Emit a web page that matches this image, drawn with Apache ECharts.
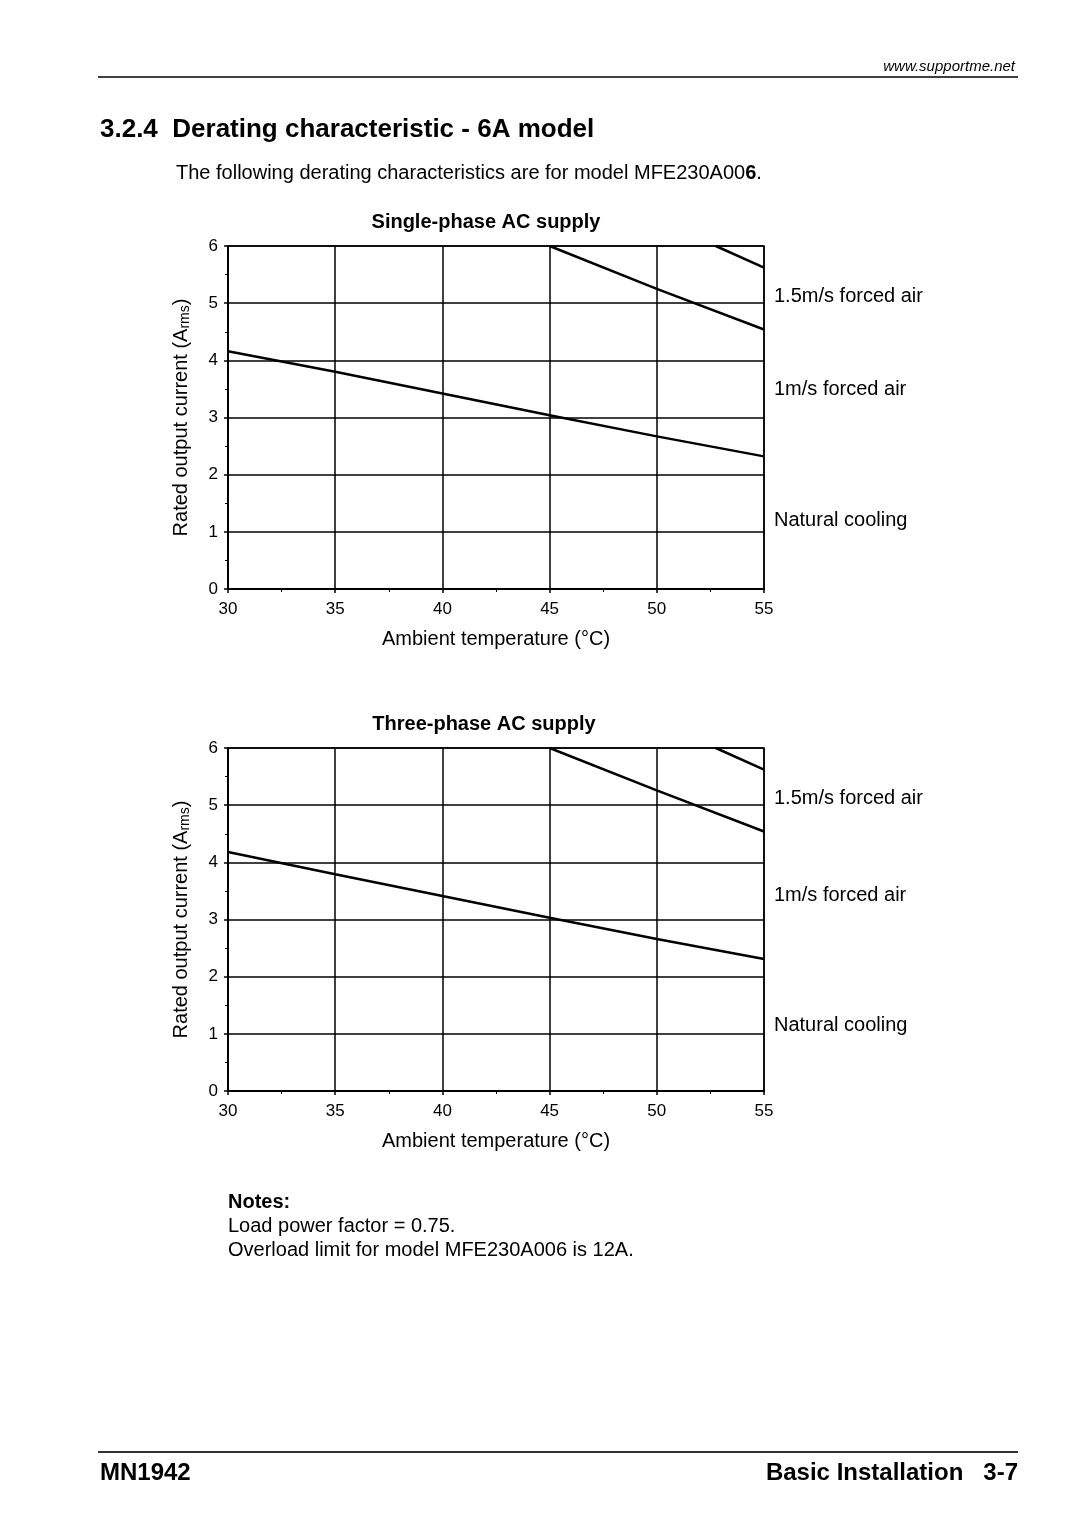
<!DOCTYPE html>
<html>
<head>
<meta charset="utf-8">
<script src="https://cdn.jsdelivr.net/npm/echarts@6/dist/echarts.min.js"></script>
<style>
  html, body { margin: 0; padding: 0; background: #fff; }
  #page { width: 1080px; height: 1529px; }
</style>
</head>
<body>
<div id="page"></div>
<script>
// temperature points (°C) and rated current (Arms)
var tempNatural = [30, 35, 40, 45, 50, 55];
var singleNatural = [4.16, 3.80, 3.42, 3.04, 2.67, 2.32];
var threeNatural = [4.18, 3.79, 3.41, 3.03, 2.66, 2.31];

var temp1ms = [45, 50, 55];
var single1ms = [6.0, 5.25, 4.54];
var three1ms = [6.0, 5.26, 4.54];

var temp15ms = [52.75, 55];
var single15ms = [6.0, 5.62];
var three15ms = [6.0, 5.62];

var xTicks = { min: 30, max: 55, step: 5 };
var yTicks = { min: 0, max: 6, step: 1 };

var sideLabels = ["1.5m/s forced air", "1m/s forced air", "Natural cooling"];

var font = "'Liberation Sans', Arial, sans-serif";
var chart = echarts.init(document.getElementById("page"));

function pairs(xs, ys) {
  return xs.map(function (x, i) { return [x, ys[i]]; });
}

function xAxisFor(idx) {
  return {
    gridIndex: idx,
    type: "value",
    min: xTicks.min, max: xTicks.max, interval: xTicks.step,
    name: "Ambient temperature (°C)",
    nameLocation: "middle",
    nameGap: 40,
    nameTextStyle: { fontFamily: font, fontSize: 20, color: "#000" },
    axisLine: { lineStyle: { color: "#000", width: 2 } },
    axisTick: { show: true, length: 4, lineStyle: { color: "#000", width: 1.5 } },
    minorTick: { show: true, splitNumber: 2, length: 3, lineStyle: { color: "#000", width: 1 } },
    axisLabel: { fontFamily: font, fontSize: 17, color: "#000", margin: 12 },
    splitLine: { show: true, lineStyle: { color: "#000", width: 1.5 } }
  };
}

function yAxisFor(idx) {
  return {
    gridIndex: idx,
    type: "value",
    min: yTicks.min, max: yTicks.max, interval: yTicks.step,
    name: "Rated output current (A{s|rms})",
    nameLocation: "middle",
    nameRotate: 90,
    nameGap: 36,
    nameTextStyle: {
      fontFamily: font, fontSize: 20, color: "#000",
      rich: { s: { fontFamily: font, fontSize: 14, color: "#000", padding: [8, 0, 0, 0] } }
    },
    axisLine: { lineStyle: { color: "#000", width: 2 } },
    axisTick: { show: true, length: 4, lineStyle: { color: "#000", width: 1.5 } },
    minorTick: { show: true, splitNumber: 2, length: 3, lineStyle: { color: "#000", width: 1 } },
    axisLabel: { fontFamily: font, fontSize: 17, color: "#000", margin: 10 },
    splitLine: { show: true, lineStyle: { color: "#000", width: 1.5 } }
  };
}

function line(idx, xs, ys) {
  return {
    type: "line",
    xAxisIndex: idx, yAxisIndex: idx,
    data: pairs(xs, ys),
    symbol: "none",
    smooth: false,
    lineStyle: { color: "#000", width: 2.5 },
    clip: true
  };
}

function label(x, y, s, extra) {
  return {
    type: "text", x: x, y: y,
    style: Object.assign({
      text: s, fontFamily: font, fontSize: 20, fill: "#000", textVerticalAlign: "middle"
    }, extra || {})
  };
}

var gfx = [
  // header
  label(1015, 67, "www.supportme.net", { fontSize: 15, fontStyle: "italic", textAlign: "right" }),
  { type: "line", shape: { x1: 98, y1: 77, x2: 1018, y2: 77 }, style: { stroke: "#000", lineWidth: 1.5 } },
  label(100, 130, "3.2.4  Derating characteristic - 6A model", { fontSize: 26, fontWeight: "bold" }),
  label(176, 173, "The following derating characteristics are for model MFE230A00{b|6}.", {
    rich: { b: { fontFamily: font, fontSize: 20, fontWeight: "bold", fill: "#000" } } }),
  // chart titles
  label(486, 222, "Single-phase AC supply", { fontWeight: "bold", textAlign: "center" }),
  label(484, 724, "Three-phase AC supply", { fontWeight: "bold", textAlign: "center" }),
  // side labels
  label(774, 296, sideLabels[0]),
  label(774, 389, sideLabels[1]),
  label(774, 520, sideLabels[2]),
  label(774, 798, sideLabels[0]),
  label(774, 895, sideLabels[1]),
  label(774, 1025, sideLabels[2]),
  // notes
  label(228, 1202, "Notes:", { fontWeight: "bold" }),
  label(228, 1226, "Load power factor = 0.75."),
  label(228, 1250, "Overload limit for model MFE230A006 is 12A."),
  // footer
  { type: "line", shape: { x1: 98, y1: 1452, x2: 1018, y2: 1452 }, style: { stroke: "#333", lineWidth: 2 } },
  label(100, 1473, "MN1942", { fontSize: 24, fontWeight: "bold" }),
  label(1018, 1473, "Basic Installation   3-7", { fontSize: 24, fontWeight: "bold", textAlign: "right" })
];

chart.setOption({
  backgroundColor: "#fff",
  animation: false,
  grid: [
    { left: 228, top: 246, width: 536, height: 343, show: true, borderColor: "#000", borderWidth: 1.5 },
    { left: 228, top: 748, width: 536, height: 343, show: true, borderColor: "#000", borderWidth: 1.5 }
  ],
  xAxis: [xAxisFor(0), xAxisFor(1)],
  yAxis: [yAxisFor(0), yAxisFor(1)],
  series: [
    line(0, tempNatural, singleNatural),
    line(0, temp1ms, single1ms),
    line(0, temp15ms, single15ms),
    line(1, tempNatural, threeNatural),
    line(1, temp1ms, three1ms),
    line(1, temp15ms, three15ms)
  ],
  graphic: gfx
});
</script>
</body>
</html>
